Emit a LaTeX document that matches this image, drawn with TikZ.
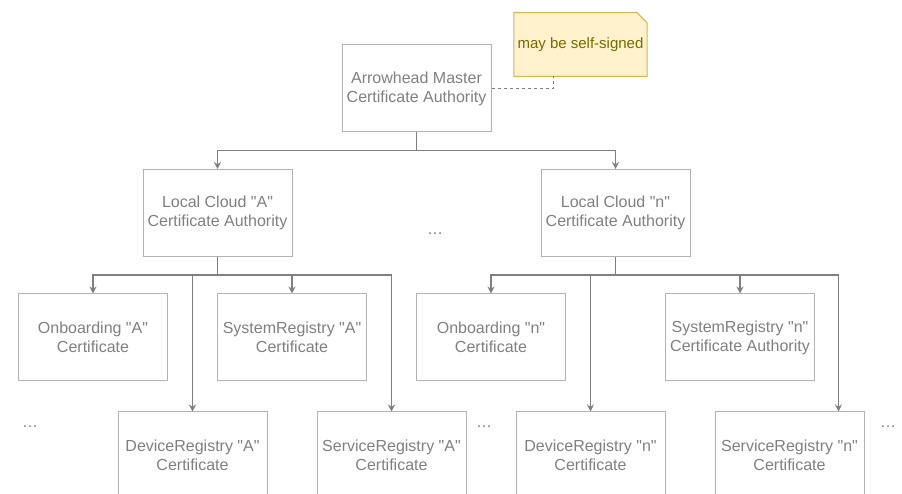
\documentclass[tikz,border=0pt]{standalone}
\usepackage{fontspec}
\setmainfont{Liberation Sans}
\usetikzlibrary{arrows.meta, positioning, backgrounds}

\definecolor{boxgray}{RGB}{179,179,179}
\definecolor{textgray}{RGB}{128,128,128}
\definecolor{linegray}{RGB}{128,128,128}
\definecolor{notefill}{RGB}{255,242,204}
\definecolor{noteline}{RGB}{214,182,86}
\definecolor{notetext}{RGB}{120,104,0}

\newcommand{\quoted}[1]{\textquotedbl#1\textquotedbl}

\begin{document}
\begin{tikzpicture}[
            x = 1pt, y = 1pt,
            > = {Stealth[length=7pt, width=7pt]}, % arrow head style
            node distance = 199pt, % centre to centre
            font = \fontsize{16}{19}\selectfont,
            semithick % line style
        ]

        \tikzstyle{cert}=[
            draw = boxgray,
            line width = 1pt,
            text = textgray,
            minimum width = 149pt,
            minimum height = 87pt,
            align = center,
            inner sep = 0pt
        ]
        \tikzstyle{link}=[
            draw = linegray,
            line width = 1.4pt
        ]
        \tikzstyle{note}=[
            text = notetext,
            minimum width = 131pt,
            minimum height = 63pt,
            font = \fontsize{15}{18}\selectfont
        ]
        \tikzstyle{more}=[text = textgray]

    \useasboundingbox (0,0) rectangle (902,494);
    \clip (0,0) rectangle (902,494);

	\node[cert] (master) at (416.5,405.5) {Arrowhead Master\\Certificate Authority};
	\node[note] (note) at (580.5,449.5) {may be self-signed};

	\node[cert] (lcA) at (217.5,281) {Local Cloud \quoted{A}\\Certificate Authority};
	\node[cert] (lcN) [right of=lcA, node distance=398pt] {Local Cloud \quoted{n}\\Certificate Authority};
	\node[more] (dotsMid) at (435,260) {…};

	\node[cert] (onbA) at (93,156.5) {Onboarding \quoted{A}\\Certificate};
	\node[cert] (sysA) [right of=onbA] {SystemRegistry \quoted{A}\\Certificate};
	\node[cert] (onbN) [right of=sysA] {Onboarding \quoted{n}\\Certificate};
	\node[cert] (sysN) [right of=onbN, xshift=50pt] {SystemRegistry \quoted{n}\\Certificate Authority};

	\node[cert] (devA) at (192.5,38.5) {DeviceRegistry \quoted{A}\\Certificate};
	\node[cert] (srvA) [right of=devA] {ServiceRegistry \quoted{A}\\Certificate};
	\node[cert] (devN) [right of=srvA] {DeviceRegistry \quoted{n}\\Certificate};
	\node[cert] (srvN) [right of=devN] {ServiceRegistry \quoted{n}\\Certificate};

	\node[more] (dotsA) at (30,67) {…};
	\node[more] (dotsAN) at (484,67) {…};
	\node[more] (dotsN) at (888,67) {…};

    % folded note behind its text
    \begin{scope}[on background layer]
        \draw[noteline, fill=notefill, line width=1pt]
            (note.south west) -- (note.north west) -- ([xshift=-10pt]note.north east)
            -- ([yshift=-10pt]note.north east) -- (note.south east) -- cycle;
    \end{scope}
    \draw[linegray, dashed, line width=1pt] (master.east) -| ([xshift=-27.5pt]note.south);

    \coordinate (forkTop) at ([yshift=-18pt]master.south);
    \coordinate (forkA) at ([yshift=-18pt]lcA.south);
    \coordinate (forkN) at ([yshift=-18pt]lcN.south);

        \path[link, ->] (master) -- (forkTop) -| (lcA);
        \path[link, ->] (forkTop) -| (lcN);

        \path[link, ->] (lcA) -- (forkA) -| (onbA);
        \path[link, ->] (forkA) -| (devA);
        \path[link, ->] (forkA) -| (sysA);
        \path[link, ->] (forkA) -| (srvA);

        \path[link, ->] (lcN) -- (forkN) -| (onbN);
        \path[link, ->] (forkN) -| (devN);
        \path[link, ->] (forkN) -| (sysN);
        \path[link, ->] (forkN) -| ([xshift=49pt]srvN.north);

    \end{tikzpicture}
\end{document}
